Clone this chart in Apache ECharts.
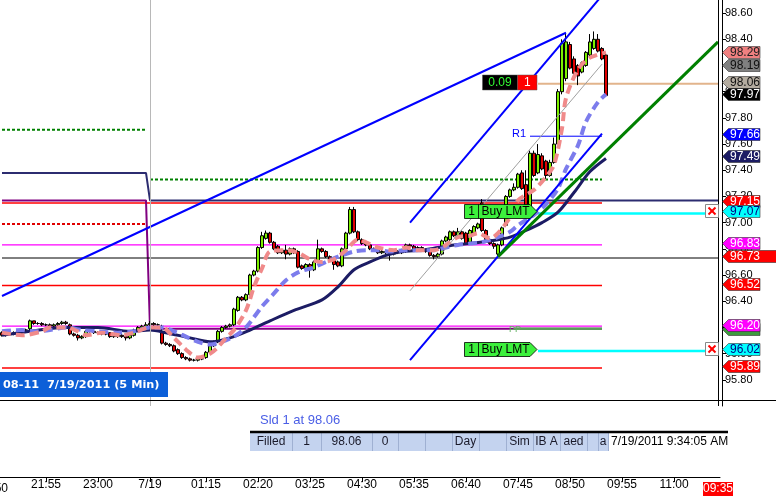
<!DOCTYPE html>
<html><head><meta charset="utf-8">
<script src="https://cdn.jsdelivr.net/npm/echarts/dist/echarts.min.js"></script>
<style>html,body{margin:0;padding:0;background:#fff;overflow:hidden}#c{width:776px;height:500px}</style>
</head><body><div id="c"></div>
<script>
// ---------- DATA ----------
// candles: [open, close, low, high], one per 5-min bar starting 21:00
const ohlc = [
[96.16,96.14,96.13,96.17],[96.14,96.15,96.13,96.16],[96.15,96.15,96.14,96.16],[96.15,96.16,96.14,96.17],
[96.16,96.17,96.15,96.18],[96.17,96.18,96.16,96.19],[96.18,96.18,96.17,96.19],[96.19,96.25,96.18,96.26],
[96.25,96.23,96.22,96.25],[96.23,96.23,96.22,96.24],[96.23,96.22,96.21,96.24],[96.22,96.22,96.21,96.23],
[96.22,96.21,96.20,96.23],[96.21,96.22,96.20,96.23],[96.22,96.23,96.21,96.24],[96.23,96.24,96.22,96.25],
[96.24,96.23,96.22,96.25],[96.22,96.15,96.14,96.23],[96.15,96.14,96.13,96.16],[96.14,96.12,96.10,96.15],
[96.12,96.13,96.11,96.14],[96.13,96.17,96.12,96.18],[96.17,96.17,96.16,96.18],[96.17,96.16,96.15,96.18],
[96.16,96.16,96.15,96.17],[96.16,96.15,96.14,96.17],[96.15,96.15,96.14,96.16],[96.16,96.13,96.12,96.16],
[96.13,96.13,96.12,96.14],[96.13,96.14,96.12,96.15],[96.14,96.13,96.12,96.15],[96.13,96.12,96.10,96.14],
[96.12,96.14,96.11,96.15],[96.14,96.18,96.13,96.19],[96.18,96.20,96.17,96.21],[96.20,96.21,96.19,96.22],
[96.21,96.22,96.20,96.24],[96.22,96.23,96.21,96.25],[96.23,96.22,96.21,96.24],[96.22,96.22,96.21,96.23],
[96.16,96.08,96.07,96.22],[96.08,96.07,96.06,96.09],[96.07,96.06,96.05,96.08],[96.06,96.02,96.01,96.07],
[96.03,96.00,95.99,96.04],[96.00,95.97,95.96,96.01],[95.97,95.96,95.95,95.98],[95.96,95.95,95.94,95.97],
[95.95,95.95,95.94,95.96],[95.95,95.96,95.94,95.97],[95.96,95.96,95.95,95.98],[95.97,96.01,95.96,96.02],
[96.01,96.06,96.00,96.07],[96.06,96.09,96.05,96.10],[96.09,96.17,96.08,96.18],[96.17,96.20,96.16,96.21],
[96.20,96.21,96.19,96.22],[96.21,96.22,96.20,96.23],[96.22,96.34,96.21,96.35],[96.33,96.43,96.32,96.44],
[96.43,96.41,96.40,96.44],[96.41,96.45,96.40,96.46],[96.45,96.60,96.44,96.61],[96.60,96.63,96.59,96.64],
[96.63,96.81,96.62,96.82],[96.81,96.90,96.80,96.93],[96.88,96.92,96.87,96.94],[96.92,96.85,96.84,96.93],
[96.85,96.80,96.79,96.86],[96.82,96.77,96.76,96.83],[96.77,96.79,96.76,96.80],[96.79,96.76,96.72,96.83],
[96.76,96.80,96.75,96.81],[96.80,96.77,96.76,96.81],[96.78,96.66,96.65,96.79],[96.67,96.65,96.64,96.68],
[96.65,96.68,96.64,96.69],[96.68,96.64,96.58,96.69],[96.64,96.70,96.63,96.71],[96.70,96.80,96.69,96.87],
[96.80,96.78,96.77,96.81],[96.78,96.74,96.73,96.79],[96.74,96.72,96.71,96.75],[96.72,96.68,96.64,96.73],
[96.70,96.67,96.66,96.71],[96.67,96.80,96.66,96.81],[96.80,96.92,96.79,96.93],[96.92,97.10,96.91,97.12],
[97.10,96.93,96.92,97.12],[96.93,96.87,96.86,96.94],[96.87,96.84,96.83,96.88],[96.84,96.83,96.82,96.85],
[96.83,96.80,96.79,96.84],[96.80,96.79,96.78,96.81],[96.79,96.77,96.76,96.80],[96.77,96.78,96.76,96.79],
[96.78,96.77,96.74,96.79],[96.77,96.76,96.71,96.78],[96.76,96.78,96.75,96.79],[96.78,96.77,96.76,96.79],
[96.77,96.79,96.76,96.80],[96.78,96.83,96.77,96.84],[96.83,96.82,96.81,96.84],[96.82,96.80,96.79,96.83],
[96.80,96.81,96.79,96.82],[96.81,96.79,96.78,96.82],[96.79,96.78,96.77,96.80],[96.78,96.75,96.74,96.79],
[96.75,96.74,96.72,96.76],[96.74,96.76,96.73,96.77],[96.76,96.86,96.75,96.87],[96.86,96.89,96.85,96.90],
[96.87,96.93,96.86,96.94],[96.93,96.90,96.89,96.94],[96.90,96.93,96.89,96.96],[96.93,96.88,96.87,96.94],
[96.92,96.84,96.83,96.93],[96.85,96.94,96.84,96.95],[96.92,96.97,96.91,96.98],[96.96,96.99,96.95,97.00],
[97.15,96.94,96.93,97.18],[96.94,96.87,96.86,96.95],[96.87,96.84,96.83,96.88],[96.84,96.82,96.80,96.85],
[96.76,96.83,96.73,96.84],[96.83,96.96,96.82,96.97],[96.98,97.20,96.97,97.21],[97.20,97.25,97.19,97.26],
[97.25,97.27,97.24,97.30],[97.27,97.37,97.26,97.38],[97.38,97.26,97.25,97.40],[97.29,97.10,97.09,97.40],
[97.10,97.53,97.08,97.55],[97.53,97.36,97.35,97.55],[97.38,97.52,97.37,97.60],[97.51,97.41,97.40,97.53],
[97.47,97.36,97.33,97.48],[97.36,97.46,97.35,97.48],[97.46,97.60,97.45,97.65],[97.60,98.00,97.58,98.02],
[98.00,98.37,97.98,98.40],[98.10,98.38,98.08,98.44],[98.36,98.18,98.17,98.38],[98.25,98.14,98.13,98.27],
[98.20,98.12,98.05,98.21],[98.15,98.22,98.14,98.23],[98.20,98.30,98.19,98.31],[98.28,98.38,98.27,98.44],
[98.33,98.40,98.32,98.46],[98.40,98.31,98.30,98.44],[98.33,98.25,98.24,98.34],[98.28,97.97,97.96,98.29]
];
// moving averages: [barIndex, value]
const maFast = [[0,96.16],[5,96.14],[10,96.17],[12,96.20],[16,96.20],[19,96.17],[21,96.14],[25,96.16],[30,96.14],[33,96.16],[37,96.20],[40,96.20],[43,96.12],[46,96.03],[49,95.97],[52,96.00],[54,96.05],[56,96.12],[58,96.18],[61,96.33],[63,96.51],[65,96.65],[67,96.78],[71,96.79],[74,96.77],[77,96.72],[80,96.70],[83,96.72],[86,96.79],[89,96.87],[91,96.85],[94,96.81],[98,96.79],[101,96.81],[104,96.79],[108,96.79],[111,96.83],[114,96.89],[117,96.90],[119,96.92],[122,96.88],[124,96.92],[127,97.04],[129,97.17],[133,97.25],[136,97.35],[138,97.44],[140,97.72],[141,97.95],[144,98.17],[147,98.26],[151,98.30]];
const maMid = [[0,96.17],[5,96.18],[8,96.17],[12,96.18],[16,96.20],[20,96.18],[24,96.17],[29,96.16],[33,96.17],[37,96.20],[40,96.20],[43,96.17],[46,96.13],[49,96.09],[52,96.07],[54,96.08],[58,96.13],[61,96.20],[65,96.36],[68,96.46],[71,96.56],[74,96.62],[78,96.66],[81,96.70],[84,96.74],[88,96.78],[91,96.79],[94,96.79],[97,96.78],[101,96.79],[105,96.79],[108,96.79],[111,96.81],[114,96.83],[117,96.84],[120,96.85],[124,96.89],[127,96.93],[129,96.98],[133,97.06],[136,97.14],[139,97.26],[141,97.41],[144,97.59],[146,97.77],[149,97.92],[151,97.98]];
const maSlow = [[0,96.14],[7,96.17],[15,96.20],[24,96.20],[32,96.17],[37,96.18],[41,96.16],[47,96.12],[52,96.09],[57,96.12],[62,96.18],[67,96.25],[73,96.33],[80,96.41],[84,96.51],[88,96.64],[92,96.70],[96,96.75],[100,96.78],[105,96.79],[109,96.81],[113,96.83],[117,96.84],[124,96.87],[127,96.89],[131,96.94],[135,97.00],[139,97.08],[143,97.23],[147,97.39],[151,97.49]];
// drawn trend lines: [barIndex, price]
const trendLong = [[0,96.44],[141,98.45]];
const forkUpper = [[102,97.00],[151,98.77]];
const forkMedian = [[102,96.48],[150,98.21]];
const forkLower = [[102,95.95],[150,97.68]];
const greenTrend = [[124,96.74],[179,98.38]];
// horizontal levels
const prevGreenDot = [[0,97.71],[36,97.71]];
const curGreenDot = [[37,97.33],[150,97.33]];
const navyStep = [[0,97.38],[36,97.38],[37,97.17],[179,97.17]];
const purpleStep = [[0,97.17],[36,97.17],[37,96.19],[150,96.19]];
const redDot = [[0,96.99],[36,96.99]];
const redLevels = [97.15, 96.52, 95.89];
const magentaLevels = [96.83, 96.21];
const lastLine = 96.73;
const positionPrice = 98.06;
const r1Level = 97.66;
const ppLevel = 96.19;
const buyLimits = [97.07, 96.02];
const dayBreakIndex = 37;
// axis
const tickIndex = [11,24,37,51,64,77,90,103,116,129,142,155,168];
const tickLabels = ['21:55','23:00','7/19','01:15','02:20','03:25','04:30','05:35','06:40','07:45','08:50','09:55','11:00'];
// right-axis price tags
const tagValues = [98.29,98.19,98.06,97.97,97.66,97.49,97.15,97.07,96.83,96.73,96.52,96.19,96.20,96.02,95.89];
const tagText   = ['98.29','98.19','98.06','97.97','97.66','97.49','97.15','97.07','96.83','96.73','96.52','','96.20','96.02','95.89'];
const tagBg = ['#f08080','#808080','#b4aca0','#000000','#0000ff','#1c1c64','#ff0000','#00ffff','#ff00ff','#ff0000','#ff0000','#3c9c3c','#ff00ff','#00ffff','#ff0000'];
const tagFg = ['#202020','#101010','#101010','#ffffff','#ffffff','#ffffff','#ffffff','#000080','#ffffff','#ffffff','#ffffff','#ffffff','#ffffff','#000080','#ffffff'];
const tagWide = [0,0,0,0,0,0,0,0,0,1,0,0,0,0,0];
const tagShift = [0,0,0,0,0,0,0,0,0,0,0,2,0,0,0];

// ---------- CHART ----------
const cats = [];
for (let k = 0; k < 180; k++) {
  const m = (21 * 60 + k * 5) % 1440;
  cats.push(String(Math.floor(m / 60)).padStart(2, '0') + ':' + String(m % 60).padStart(2, '0'));
}
const FONT = '"Liberation Sans", Arial, sans-serif';
const chart = echarts.init(document.getElementById('c'));

function lineSeries(data, color, width, type, z) {
  return { type: 'line', xAxisIndex: 0, yAxisIndex: 0, data: data, symbol: 'none', silent: true,
    lineStyle: { color: color, width: width, type: type || 'solid' }, z: z || 1, animation: false };
}
const series = [];
series.push(lineSeries(prevGreenDot, '#008000', 2, [3, 2], 1));
series.push(lineSeries(curGreenDot, '#008000', 2, [3, 2], 1));
series.push(lineSeries(redDot, '#e00000', 2, [3, 2], 1));
redLevels.forEach(v => series.push(lineSeries([[0, v], [150, v]], '#ff0000', 1.3, 'solid', 1)));
magentaLevels.forEach(v => series.push(lineSeries([[0, v], [150, v]], '#ff00ff', 1.3, 'solid', 1)));
series.push(lineSeries(purpleStep, '#800080', 2, 'solid', 1));
series.push(lineSeries(navyStep, '#2c2c70', 2, 'solid', 1));
series.push(lineSeries([[0, lastLine], [179, lastLine]], '#000000', 1, 'solid', 1));
series.push(lineSeries([[128, ppLevel], [150, ppLevel]], '#5c9c5c', 2.5, 'solid', 1));
series.push(lineSeries([[134, positionPrice], [179, positionPrice]], '#e2b48c', 2, 'solid', 1));
series.push(lineSeries([[132, r1Level], [150, r1Level]], '#0000ff', 1, 'solid', 1));
buyLimits.forEach(v => series.push(lineSeries([[134, v], [176, v]], '#00ffff', 2.5, 'solid', 1)));

series.push({
  type: 'candlestick', xAxisIndex: 0, yAxisIndex: 0, data: ohlc, barWidth: 4, z: 2, animation: false, silent: true,
  itemStyle: { color: '#7cf000', color0: '#e00000', borderColor: '#000', borderColor0: '#000', borderWidth: 1 },
  markLine: { silent: true, symbol: 'none', label: { show: false }, animation: false,
    lineStyle: { color: '#b8b8b8', width: 1, type: 'solid' }, data: [{ xAxis: dayBreakIndex }] }
});
series.push(Object.assign(lineSeries(maSlow, '#1c1c64', 3, 'solid', 3), { smooth: 0.3 }));
series.push(Object.assign(lineSeries(maMid, '#7c7cec', 4, [9, 5], 3), { smooth: 0.3 }));
series.push(Object.assign(lineSeries(maFast, '#f08a8a', 4, [9, 5], 3), { smooth: 0.3 }));
series.push(lineSeries(trendLong, '#0000ff', 2, 'solid', 4));
series.push(lineSeries(forkUpper, '#0000ff', 2, 'solid', 4));
series.push(lineSeries(forkLower, '#0000ff', 2, 'solid', 4));
series.push(lineSeries(forkMedian, '#a0a0a0', 1, 'solid', 4));
series.push(lineSeries(greenTrend, '#008000', 3, 'solid', 4));

const option = {
  backgroundColor: '#ffffff',
  animation: false,
  grid: [
    { left: 0, right: 56, top: 0, height: 406, outerBoundsMode: 'none', containLabel: false },
    { left: 0, right: 56, top: 476, height: 1, outerBoundsMode: 'none', containLabel: false }
  ],
  xAxis: [
    { type: 'category', gridIndex: 0, data: cats, boundaryGap: true, axisLine: { show: false }, axisTick: { show: false }, axisLabel: { show: false }, splitLine: { show: false } },
    { type: 'category', gridIndex: 1, data: cats, boundaryGap: true, position: 'bottom',
      axisLine: { show: true, lineStyle: { color: '#000', width: 1 } },
      axisTick: { show: true, alignWithLabel: true, length: 5, lineStyle: { color: '#000' }, interval: (i) => tickIndex.indexOf(i) >= 0 },
      axisLabel: { show: true, interval: (i) => tickIndex.indexOf(i) >= 0, margin: 2, color: '#000', fontSize: 12, fontFamily: FONT,
        formatter: (val, i) => { const k = tickIndex.indexOf(i); return k >= 0 ? tickLabels[k] : ''; } },
      splitLine: { show: false } }
  ],
  yAxis: [
    { type: 'value', gridIndex: 0, position: 'right', offset: 2, min: 95.6, max: 98.7, interval: 0.2, scale: true,
      axisLine: { show: true, lineStyle: { color: '#000', width: 1 } },
      axisTick: { show: true, length: 4, lineStyle: { color: '#000' } },
      axisLabel: { show: true, color: '#000', fontSize: 11, fontFamily: FONT, margin: 3, showMinLabel: false, showMaxLabel: false,
        formatter: v => v.toFixed(2) },
      splitLine: { show: false } },
    { type: 'value', gridIndex: 1, show: false }
  ],
  series: series
};
chart.setOption(option);

// ---------- ANNOTATIONS (positioned through the axes) ----------
const yPix = v => chart.convertToPixel({ yAxisIndex: 0 }, v);
const xPix = i => chart.convertToPixel({ xAxisIndex: 0 }, i);
const g = [];
function txt(x, y, s, fill, font, align, z) {
  return { type: 'text', x: x, y: y, z: z || 110,
    style: { text: s, fill: fill, font: font, align: align || 'left', textAlign: align || 'left', verticalAlign: 'middle', textVerticalAlign: 'middle' } };
}
// frame lines
g.push({ type: 'line', shape: { x1: 718.5, y1: 0, x2: 718.5, y2: 406 }, style: { stroke: '#000', lineWidth: 1 }, z: 90 });
g.push({ type: 'line', shape: { x1: 0, y1: 400.5, x2: 776, y2: 400.5 }, style: { stroke: '#000', lineWidth: 1.2 }, z: 90 });
// price tags
tagValues.forEach((v, k) => {
  const y = Math.round(yPix(v)) - 2 + tagShift[k] + 0.5;
  const x0 = 722.5, x1 = tagWide[k] ? 777 : 760;
  g.push({ type: 'polygon', z: 100 + k,
    shape: { points: [[x0, y], [x0 + 6, y - 6], [x1, y - 6], [x1, y + 6], [x0 + 6, y + 6]] },
    style: { fill: tagBg[k], stroke: '#333', lineWidth: 0.6 } });
  if (tagText[k]) g.push(Object.assign(txt(730, y + 0.5, tagText[k], tagFg[k], '12px ' + FONT, 'left'), { z: 130 + k }));
});
// buy limit order boxes
buyLimits.forEach(v => {
  const y = Math.round(yPix(v)) - 2 + 0.5;
  const xl = Math.round(xPix(116)) - 2 + 0.5, xr = Math.round(xPix(134)) - 1;
  g.push({ type: 'polygon', z: 120, shape: { points: [[xl, y - 7], [xr - 7, y - 7], [xr, y], [xr - 7, y + 7], [xl, y + 7]] },
    style: { fill: '#3cf03c', stroke: '#000', lineWidth: 0.8 } });
  g.push({ type: 'line', z: 121, shape: { x1: xl + 14, y1: y - 7, x2: xl + 14, y2: y + 7 }, style: { stroke: '#000', lineWidth: 0.8 } });
  g.push(txt(xl + 7, y + 0.5, '1', '#000', '12px ' + FONT, 'center', 122));
  g.push(txt(xl + 17, y + 0.5, 'Buy LMT', '#000', '12px ' + FONT, 'left', 122));
  const xc = Math.round(xPix(177)) + 0.5;
  g.push({ type: 'rect', z: 120, shape: { x: xc - 5, y: y - 7, width: 13, height: 13 }, style: { fill: '#fff', stroke: '#888', lineWidth: 1 } });
  g.push({ type: 'line', z: 121, shape: { x1: xc - 2, y1: y - 4, x2: xc + 5, y2: y + 3 }, style: { stroke: '#ff0000', lineWidth: 2 } });
  g.push({ type: 'line', z: 121, shape: { x1: xc + 5, y1: y - 4, x2: xc - 2, y2: y + 3 }, style: { stroke: '#ff0000', lineWidth: 2 } });
});
// open position box
(function () {
  const y = Math.round(yPix(positionPrice)) - 2;
  const xl = Math.round(xPix(120)) + 0.5, xm = Math.round(xPix(129)) - 0.5, xr = Math.round(xPix(134)) - 1;
  g.push({ type: 'rect', z: 120, shape: { x: xl, y: y - 7, width: xm - xl, height: 15 }, style: { fill: '#000', stroke: '#555', lineWidth: 0.5 } });
  g.push({ type: 'rect', z: 120, shape: { x: xm, y: y - 7, width: xr - xm, height: 15 }, style: { fill: '#ff0000', stroke: '#555', lineWidth: 0.5 } });
  g.push(txt((xl + xm) / 2, y + 1, '0.09', '#33ff33', '12px ' + FONT, 'center', 122));
  g.push(txt((xm + xr) / 2, y + 1, '1', '#ffffff', '12px ' + FONT, 'center', 122));
})();
g.push(txt(Math.round(xPix(129)) + 1, Math.round(yPix(r1Level)) - 2, 'R1', '#0000ff', '11px ' + FONT, 'center', 115));
g.push(txt(Math.round(xPix(128)) + 1, Math.round(yPix(ppLevel)) + 1, 'PP', '#60b060', '9px ' + FONT, 'center', 115));
// chart title box
g.push({ type: 'rect', z: 120, shape: { x: 0, y: 372, width: 168, height: 25 }, style: { fill: '#0c5fd8' } });
g.push(txt(3, 385, '08-11  7/19/2011 (5 Min)', '#ffffff', 'bold 11.3px "DejaVu Sans", sans-serif', 'left', 121));
// order panel
g.push(txt(260, 420, 'Sld 1 at 98.06', '#4a5ee6', '13px ' + FONT, 'left', 121));
const cols = [250, 292, 321, 372, 398, 425, 452, 479, 506, 533, 560, 587, 598, 608, 728];
const cells = ['Filled', '1', '98.06', '0', '', '', 'Day', '', 'Sim', 'IB A', 'aed', '', 'a'];
g.push({ type: 'rect', z: 118, shape: { x: 250, y: 433, width: 358, height: 18 }, style: { fill: '#c4d3ef' } });
for (let k = 1; k < cols.length - 1; k++) {
  g.push({ type: 'line', z: 119, shape: { x1: cols[k] + 0.5, y1: 433, x2: cols[k] + 0.5, y2: 451 }, style: { stroke: '#9fb0d2', lineWidth: 1 } });
}
cells.forEach((s, k) => { if (s) g.push(txt((cols[k] + cols[k + 1]) / 2, 442, s, '#1a1a2a', '12px ' + FONT, 'center', 121)); });
g.push(txt(611, 442, '7/19/2011 9:34:05 AM', '#000', '12px ' + FONT, 'left', 121));
g.push({ type: 'line', z: 122, shape: { x1: 250, y1: 432, x2: 728, y2: 432 }, style: { stroke: '#000', lineWidth: 2.5 } });
// time axis extras
g.push(txt(8, 489, '50', '#000', '12px ' + FONT, 'right', 121));
g.push({ type: 'rect', z: 120, shape: { x: 703, y: 482, width: 30, height: 14 }, style: { fill: '#ff0000' } });
g.push(txt(718, 489, '09:35', '#ffffff', '12px ' + FONT, 'center', 121));
chart.setOption({ graphic: g });
</script>
</body></html>
